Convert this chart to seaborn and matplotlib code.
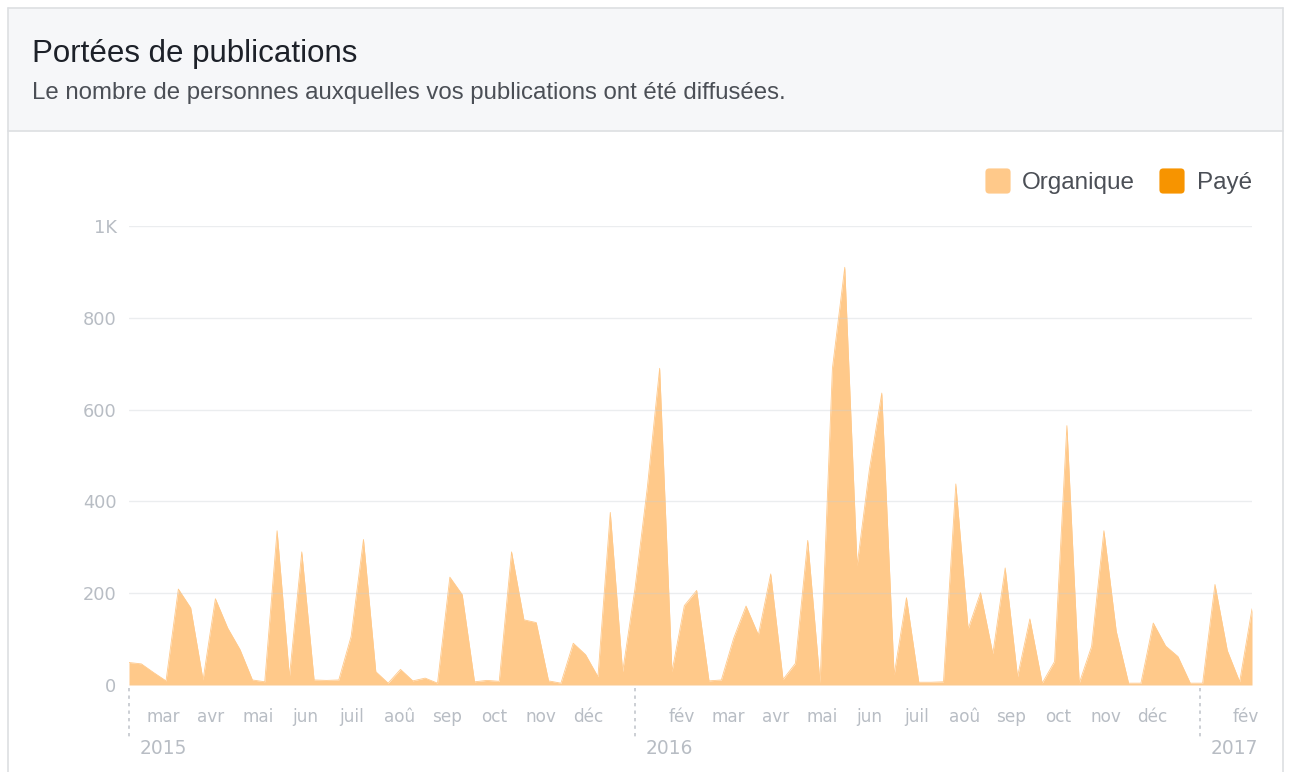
import numpy as np
import pandas as pd
import matplotlib
matplotlib.use("Agg")
import matplotlib.pyplot as plt
from matplotlib.patches import Rectangle, FancyBboxPatch
from matplotlib.transforms import blended_transform_factory
import seaborn as sns

# ---------------- data ----------------
title = "Portées de publications"
subtitle = "Le nombre de personnes auxquelles vos publications ont été diffusées."
series_names = ["Organique", "Payé"]
start_date = "2015-02-22"
step_days = 8
organique = [
    49, 46, 27, 9, 209, 168, 11, 188, 124, 77,
    11, 7, 336, 18, 290, 11, 10, 11, 106, 317,
    29, 4, 34, 9, 15, 4, 235, 197, 7, 10,
    8, 290, 142, 136, 9, 4, 91, 66, 18, 376,
    29, 210, 430, 690, 29, 173, 206, 9, 11, 102,
    172, 109, 242, 12, 47, 315, 4, 690, 910, 260,
    470, 636, 22, 190, 6, 6, 7, 438, 122, 201,
    68, 255, 18, 144, 4, 51, 565, 4, 84, 336,
    117, 4, 4, 135, 85, 62, 4, 4, 219, 75,
    7, 166,
]
y_ticks = [0, 200, 400, 600, 800, 1000]
y_tick_labels = ["0", "200", "400", "600", "800", "1K"]
month_abbr = {2: "fév", 3: "mar", 4: "avr", 5: "mai", 6: "jun", 7: "juil",
              8: "aoû", 9: "sep", 10: "oct", 11: "nov", 12: "déc"}
years = [2015, 2016, 2017]

# ---------------- style ----------------
W, H = 1291, 772
C_ORG = "#ffc98a"
C_PAY = "#f79400"
C_AXIS_TXT = "#b8bdc4"
C_TITLE = "#1d2129"
C_SUB = "#4b4f56"
AXIS_FONT = ["DejaVu Sans"]

sns.set_theme(style="white")
plt.rcParams["font.family"] = ["Liberation Sans", "DejaVu Sans"]

fig = plt.figure(figsize=(W / 100, H / 100), dpi=100)
fig.patch.set_facecolor("white")


def fx(px):
    return px / W


def fy(py):
    return 1 - py / H


# card + header
fig.patches.append(Rectangle((fx(8), fy(131)), fx(1283) - fx(8), fy(8) - fy(131),
                             transform=fig.transFigure, facecolor="#f6f7f9",
                             edgecolor="none", zorder=0))
for (x0, y0, x1, y1) in [(8, 8, 1283, 8), (8, 131, 1283, 131),
                         (8, 8, 8, 772), (1283, 8, 1283, 772)]:
    fig.add_artist(plt.Line2D([fx(x0), fx(x1)], [fy(y0), fy(y1)],
                              transform=fig.transFigure, color="#dddfe2", lw=1.2))

fig.text(fx(32), fy(62), title, fontsize=22.5, color=C_TITLE, va="baseline", ha="left")
fig.text(fx(32), fy(99), subtitle, fontsize=17.3, color=C_SUB, va="baseline", ha="left")

# legend
for name, col, x0, tx in [(series_names[0], C_ORG, 986, 1022),
                          (series_names[1], C_PAY, 1160, 1197)]:
    fig.patches.append(FancyBboxPatch((fx(x0 + 2), fy(193 - 2)), fx(20), fy(0) - fy(20),
                                      boxstyle="round,pad=0.002,rounding_size=0.003",
                                      transform=fig.transFigure, facecolor=col,
                                      edgecolor="none", mutation_aspect=W / H))
    fig.text(fx(tx), fy(189), name, fontsize=17.5, color=C_SUB, va="baseline", ha="left")

# ---------------- chart ----------------
ax = fig.add_axes([fx(129), fy(685), fx(1252) - fx(129), fy(226) - fy(685)])
ax.set_facecolor("none")

dates = pd.date_range(start_date, periods=len(organique), freq=f"{step_days}D")
df = pd.DataFrame({"date": dates, "reach": organique})

ax.fill_between(df["date"], 0, df["reach"], color=C_ORG, linewidth=0, zorder=1)
sns.lineplot(data=df, x="date", y="reach", color=C_ORG, linewidth=0.6, ax=ax, zorder=2)

ax.set_xlim(dates[0], dates[-1])
ax.set_ylim(0, 1000)
ax.set_xlabel("")
ax.set_ylabel("")
for s in ax.spines.values():
    s.set_visible(False)

ax.set_yticks(y_ticks)
ax.set_yticklabels(y_tick_labels, fontfamily=AXIS_FONT)
ax.tick_params(axis="y", length=0, pad=9, labelsize=12.8, labelcolor=C_AXIS_TXT)
ax.yaxis.grid(True, color="#c8ccd2", alpha=0.35, linewidth=1)
ax.set_axisbelow(False)
for gl in ax.get_ygridlines():
    gl.set_zorder(3)

# month boundary ticks
month_starts = pd.date_range("2015-04-01", dates[-1], freq="MS")
ax.set_xticks(month_starts)
ax.set_xticklabels([""] * len(month_starts))
ax.tick_params(axis="x", length=6, width=1.2, color="#d3d6db", direction="out", pad=0)

trans = blended_transform_factory(ax.transData, ax.transAxes)
ay = lambda py: (685 - py) / (685 - 226)

# month labels (mid-month), January replaced by the year marker
all_months = pd.date_range("2015-03-01", dates[-1], freq="MS")
for m in all_months:
    if m.month == 1:
        continue
    mid = m + pd.Timedelta(days=(m.days_in_month / 2.0))
    ax.text(mid, ay(717), month_abbr[m.month], transform=trans, ha="center",
            va="center", fontsize=12.2, color=C_AXIS_TXT, clip_on=False,
            fontfamily=AXIS_FONT)

# year markers
for yv in years:
    pos = max(pd.Timestamp(f"{yv}-01-16"), dates[0])
    ax.plot([pos, pos], [ay(688), ay(740)], transform=trans, color="#c3c7cd",
            lw=1.2, ls=(0, (2, 2.5)), clip_on=False)
    ax.text(pos + pd.Timedelta(days=7), ay(749), str(yv), transform=trans, ha="left",
            va="center", fontsize=13.4, color=C_AXIS_TXT, clip_on=False,
            fontfamily=AXIS_FONT)

fig.savefig("out.png", dpi=100)
